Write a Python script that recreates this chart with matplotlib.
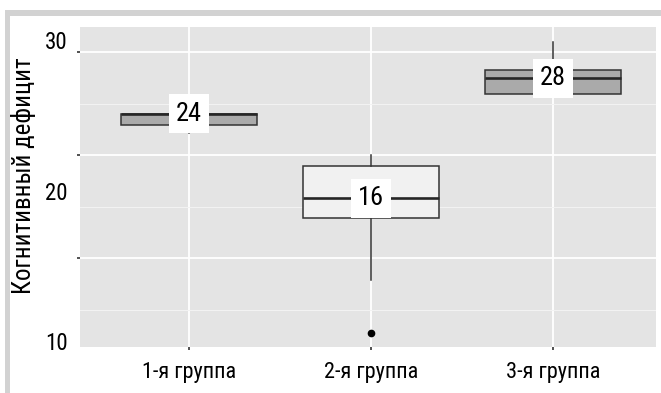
import matplotlib
matplotlib.use("Agg")
import matplotlib.pyplot as plt
from matplotlib.patches import Rectangle
from matplotlib import font_manager

names = {f.name for f in font_manager.fontManager.ttflist}
prefer = ['Liberation Sans Narrow', 'Roboto Condensed', 'Open Sans Condensed', 'Roboto']
fam = [n for n in prefer if n in names] + ['DejaVu Sans']
plt.rcParams['font.family'] = fam

# ---- data ----
groups = ["1-я группа", "2-я группа", "3-я группа"]
q1 = [22.9, 13.9, 25.9]
med = [24.0, 15.8, 27.45]
q3 = [24.0, 18.9, 28.25]
whislo = [22.1, 7.9, 25.9]
whishi = [24.0, 20.0, 31.0]
fliers = [[], [2.7], []]
median_labels = ["24", "16", "28"]
box_fills = ["#aaaaaa", "#f1f1f1", "#aaaaaa"]

ytick_labels = ["30", "20", "10"]
ytick_label_pos = [0.953, 0.481, 0.0125]   # axes fraction where labels are printed
major_breaks = [10, 20, 30]
minor_breaks = [5, 15, 25]
ylabel = "Когнитивный дефицит"

W, H = 661, 393
fig = plt.figure(figsize=(W / 100, H / 100), dpi=100)
fig.patch.set_facecolor("white")
# light grey frame (top and left)
fig.patches.append(Rectangle((5 / W, 0), 5 / W, 1 - 10 / H, transform=fig.transFigure,
                             facecolor="#d2d2d2", edgecolor="none"))
fig.patches.append(Rectangle((5 / W, 1 - 16 / H), 1, 6 / H, transform=fig.transFigure,
                             facecolor="#d2d2d2", edgecolor="none"))

ax = fig.add_axes([80 / W, 46 / H, 576 / W, 320 / H])
ax.set_facecolor("#e4e4e4")
for s in ax.spines.values():
    s.set_visible(False)

stats = []
for i in range(3):
    stats.append(dict(q1=q1[i], med=med[i], q3=q3[i], whislo=whislo[i],
                      whishi=whishi[i], fliers=fliers[i], label=groups[i]))

bp = ax.bxp(stats, positions=[1, 2, 3], widths=0.75, patch_artist=True,
            showcaps=False,
            boxprops=dict(edgecolor="#333333", linewidth=1.1),
            medianprops=dict(color="#262626", linewidth=1.9),
            whiskerprops=dict(color="#333333", linewidth=1.1),
            flierprops=dict(marker="o", markerfacecolor="black",
                            markeredgecolor="black", markersize=4.5),
            zorder=3)
for patch, c in zip(bp["boxes"], box_fills):
    patch.set_facecolor(c)

for i in range(3):
    ax.text(i + 1, med[i], median_labels[i], ha="center", va="center",
            fontsize=19, color="black", zorder=5,
            bbox=dict(boxstyle="square,pad=0.28", facecolor="white", edgecolor="none"))

ax.set_xlim(0.401, 3.566)
ax.set_ylim(1.36, 32.43)
ax.set_xticks([1, 2, 3])
ax.set_xticklabels(groups, fontsize=16)
ax.set_yticks(major_breaks)
ax.set_yticklabels([])
ax.set_yticks(minor_breaks, minor=True)
ax.tick_params(axis="y", which="major", length=2.5, color="#333333", width=1.2, pad=2)
ax.tick_params(axis="y", which="minor", length=0)
ax.tick_params(axis="x", which="major", length=2.5, color="#333333", width=1.2, pad=8)

ax.grid(True, which="major", color="white", linewidth=1.3, zorder=0)
ax.grid(True, which="minor", axis="y", color="#f3f3f3", linewidth=0.7, zorder=0)
ax.set_axisbelow(True)

for lab, pos in zip(ytick_labels, ytick_label_pos):
    ax.text(-0.021, pos, lab, transform=ax.transAxes, ha="right", va="center", fontsize=16.5)

ax.set_ylabel(ylabel, fontsize=18)
ax.yaxis.set_label_coords(-0.076, 0.535)

fig.savefig("out.png", dpi=100)
